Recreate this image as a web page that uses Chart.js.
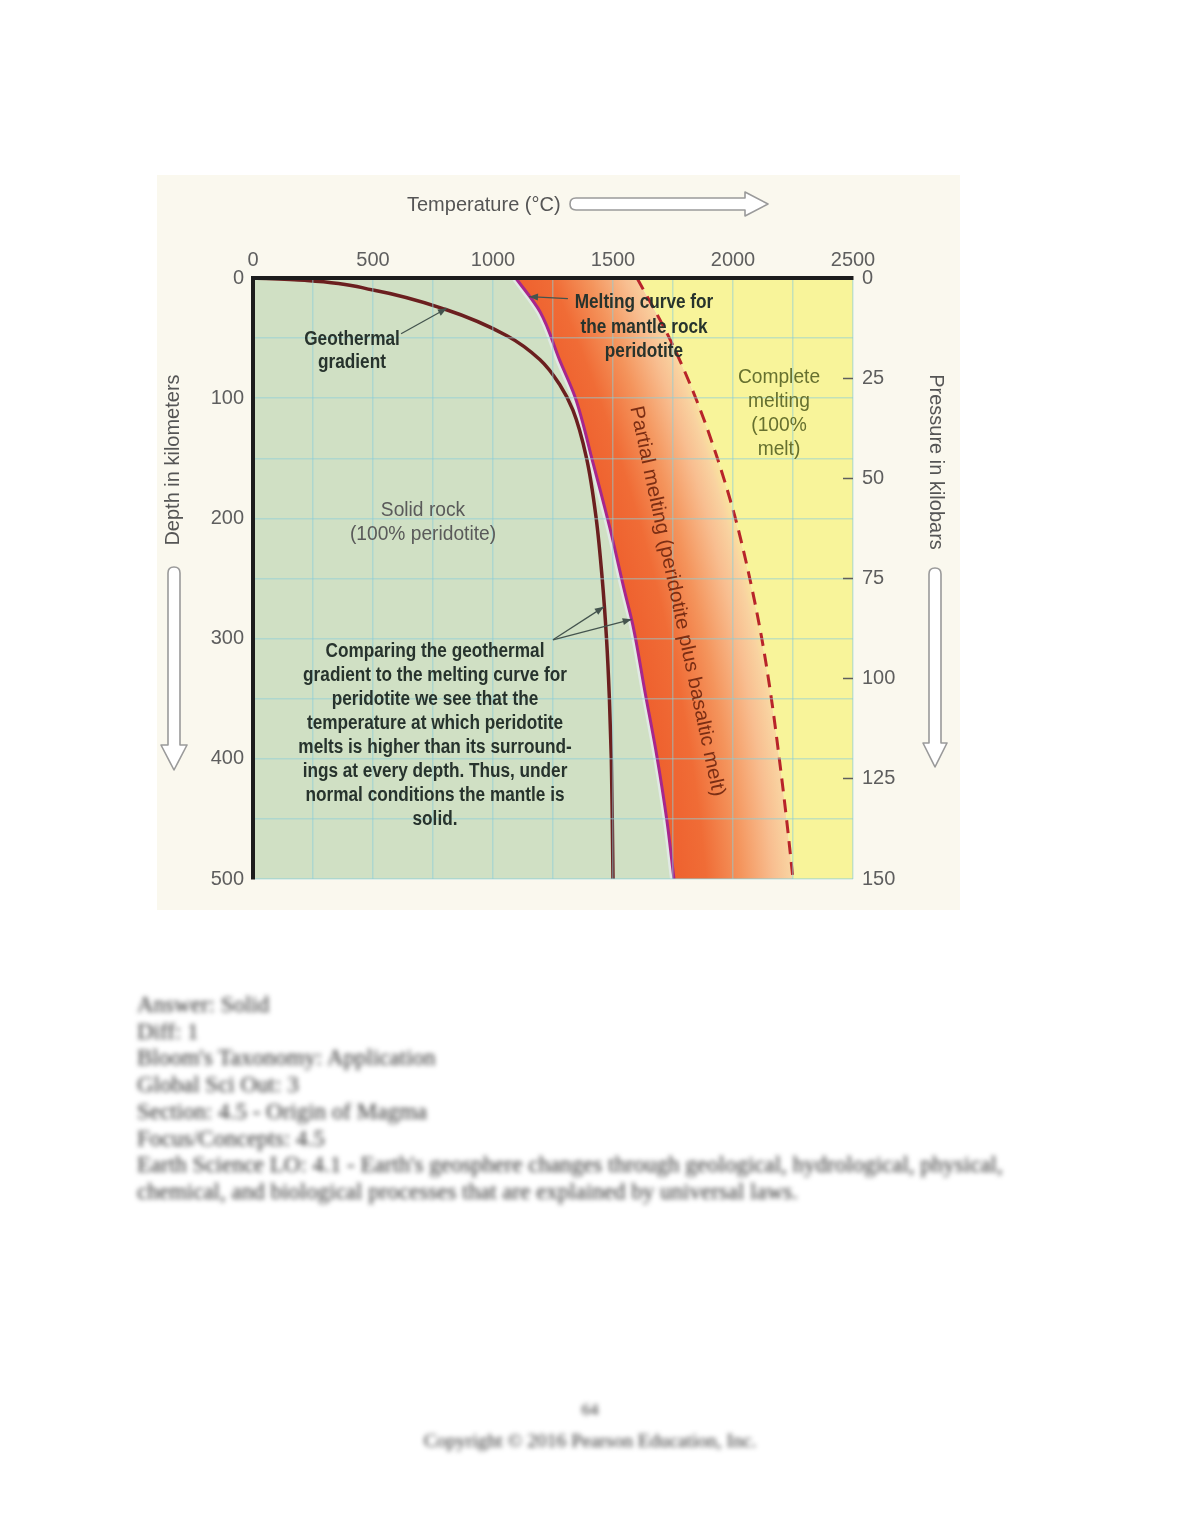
<!DOCTYPE html>
<html><head><meta charset="utf-8">
<script src="https://cdn.jsdelivr.net/npm/chart.js@4.4.1/dist/chart.umd.min.js"></script>
<style>
html,body{margin:0;padding:0;background:#fff;}
body{width:1180px;height:1527px;position:relative;overflow:hidden;font-family:'Liberation Sans',Arial,sans-serif;}
#panel{position:absolute;left:157px;top:175px;width:803px;height:735px;background:#FAF8EE;}
#wrap{position:absolute;left:157px;top:175px;width:803px;height:735px;}
.t{position:absolute;white-space:nowrap;text-align:center;transform-origin:50% 50%;}
.c{transform:translateX(-50%) scaleX(0.86);}
.cr{transform:translateX(-50%) scaleX(0.96);}
.b{font-weight:bold;font-size:20px;color:#27332d;line-height:24px;}
.r{font-size:20px;color:#5a5a5a;line-height:24px;}
#svg{position:absolute;left:0;top:0;width:1180px;height:1527px;pointer-events:none;}
.blur{position:absolute;font-family:'Liberation Serif','Times New Roman',serif;color:#2e2e2e;filter:blur(2.8px);white-space:nowrap;}
</style></head><body>
<div id="panel"></div>
<div id="wrap"><canvas id="c"></canvas></div>

<svg id="svg" xmlns="http://www.w3.org/2000/svg">
  <g fill="#ffffff" stroke="#9a9a9a" stroke-width="1.6" stroke-linejoin="round">
    <path d="M576,198 L745,198 L745,192 L768,204 L745,216 L745,210 L576,210 Q570,210 570,204 Q570,198 576,198 Z"/>
    <path d="M168,573 L168,745 L161,745 L174,770 L187,745 L180,745 L180,573 Q180,567 174,567 Q168,567 168,573 Z"/>
    <path d="M929,574 L929,743 L923,743 L935,767 L947,743 L941,743 L941,574 Q941,568 935,568 Q929,568 929,574 Z"/>
  </g>
</svg>

<div class="t r" style="left:407px;top:192px;text-align:left;color:#555;">Temperature (°C)</div>
<div class="t r" style="left:172px;top:460px;color:#555;transform:translate(-50%,-50%) rotate(-90deg);">Depth in kilometers</div>
<div class="t r" style="left:937px;top:462px;color:#555;transform:translate(-50%,-50%) rotate(90deg);">Pressure in kilobars</div>

<div class="t b c" style="left:352px;top:327px;line-height:23px;">Geothermal<br>gradient</div>
<div class="t b c" style="left:644px;top:289px;line-height:24.5px;">Melting curve for<br>the mantle rock<br>peridotite</div>
<div class="t r cr" style="left:423px;top:497px;">Solid rock<br>(100% peridotite)</div>
<div class="t r cr" style="left:779px;top:364px;color:#66702f;">Complete<br>melting<br>(100%<br>melt)</div>
<div class="t" style="left:678px;top:601px;font-size:20px;color:#7b2e14;transform:translate(-50%,-50%) rotate(78deg) scaleX(1.03);">Partial melting (peridotite plus basaltic melt)</div>
<div class="t b c" style="left:435px;top:638px;">Comparing the geothermal<br>gradient to the melting curve for<br>peridotite we see that the<br>temperature at which peridotite<br>melts is higher than its surround-<br>ings at every depth. Thus, under<br>normal conditions the mantle is<br>solid.</div>

<div class="blur" style="left:137px;top:992px;font-size:23px;line-height:26.7px;">Answer: Solid<br>Diff: 1<br>Bloom's Taxonomy: Application<br>Global Sci Out: 3<br>Section: 4.5 - Origin of Magma<br>Focus/Concepts: 4.5<br>Earth Science LO: 4.1 - Earth's geosphere changes through geological, hydrological, physical,<br>chemical, and biological processes that are explained by universal laws.</div>
<div class="blur" style="left:590px;top:1400px;font-size:17px;transform:translateX(-50%);">64</div>
<div class="blur" style="left:590px;top:1430px;font-size:19.5px;transform:translateX(-50%);">Copyright © 2016 Pearson Education, Inc.</div>

<script>
// ---- tick labels ----
const tempTicks = [0, 500, 1000, 1500, 2000, 2500];
const depthTicks = [0, 100, 200, 300, 400, 500];
const pressureTicks = [0, 25, 50, 75, 100, 125, 150];

// ---- geothermal gradient (depth km, temperature °C) ----
const geoDepth = [0, 2, 10, 26, 48, 68, 89, 110, 150, 200, 250, 300, 350, 400, 450, 500];
const geoTemp  = [0, 225, 500, 800, 1058, 1196, 1279, 1333, 1390, 1430, 1455, 1473, 1485, 1493, 1497, 1500];

// ---- melting curve of peridotite (solidus) ----
const solDepth = [0, 28, 69, 99, 154, 208, 262, 289, 344, 398, 452, 500];
const solTemp  = [1095, 1196, 1279, 1342, 1417, 1487, 1550, 1583, 1633, 1683, 1725, 1754];

// ---- complete melting curve (liquidus, dashed) ----
const liqDepth = [0, 50, 100, 150, 200, 250, 300, 350, 400, 450, 500];
const liqTemp  = [1600, 1735, 1845, 1935, 2010, 2070, 2120, 2160, 2193, 2223, 2250];

// ---- axis limits ----
const tempRange = [0, 2500];
const depthRange = [0, 500];
const pressureRange = [0, 150];

// ---- annotation leader lines (data coordinates) ----
const leaderFromT = [617, 1312, 1250, 1250];
const leaderFromD = [46.4, 17.1, 301, 301];
const leaderToT   = [808, 1150, 1462, 1578];
const leaderToD   = [25.2, 15.5, 273.6, 284];

const pts = (ds, ts) => ds.map((d, i) => ({x: ts[i], y: d}));

function bandGradient(context) {
  const chart = context.chart;
  const area = chart.chartArea;
  const xs = chart.scales.x, ys = chart.scales.y;
  if (!area || !xs || !ys) return 'rgb(242,125,65)';
  const n = solTemp.length;
  const P = i => [xs.getPixelForValue(solTemp[i]), ys.getPixelForValue(solDepth[i])];
  const [x1, y1] = P(0), [x2, y2] = P(Math.floor(n / 2)), [x3, y3] = P(n - 1);
  const d = 2 * (x1 * (y2 - y3) + x2 * (y3 - y1) + x3 * (y1 - y2));
  if (!isFinite(d) || Math.abs(d) < 1e-6) return 'rgb(242,125,65)';
  const s1 = x1 * x1 + y1 * y1, s2 = x2 * x2 + y2 * y2, s3 = x3 * x3 + y3 * y3;
  const ux = (s1 * (y2 - y3) + s2 * (y3 - y1) + s3 * (y1 - y2)) / d;
  const uy = (s1 * (x3 - x2) + s2 * (x1 - x3) + s3 * (x2 - x1)) / d;
  const r0 = Math.hypot(x1 - ux, y1 - uy);
  let r1 = 0;
  for (let i = 0; i < liqTemp.length; i++) {
    r1 += Math.hypot(xs.getPixelForValue(liqTemp[i]) - ux, ys.getPixelForValue(liqDepth[i]) - uy);
  }
  r1 /= liqTemp.length;
  if (!(r1 > r0)) return 'rgb(242,125,65)';
  const g = chart.ctx.createRadialGradient(ux, uy, r0 - 4, ux, uy, r1 + 4);
  g.addColorStop(0, 'rgb(238,96,46)');
  g.addColorStop(0.28, 'rgb(240,108,54)');
  g.addColorStop(0.55, 'rgb(244,148,92)');
  g.addColorStop(0.8, 'rgb(248,190,144)');
  g.addColorStop(0.93, 'rgb(249,210,160)');
  g.addColorStop(1, 'rgb(249,228,158)');
  return g;
}

const leaderPlugin = {
  id: 'leaders',
  afterDraw(chart) {
    const {ctx} = chart;
    const xs = chart.scales.x, ys = chart.scales.y;
    ctx.save();
    ctx.strokeStyle = '#44544e';
    ctx.fillStyle = '#44544e';
    ctx.lineWidth = 1.3;
    for (let i = 0; i < leaderFromT.length; i++) {
      const x0 = xs.getPixelForValue(leaderFromT[i]), y0 = ys.getPixelForValue(leaderFromD[i]);
      const x1 = xs.getPixelForValue(leaderToT[i]), y1 = ys.getPixelForValue(leaderToD[i]);
      ctx.beginPath(); ctx.moveTo(x0, y0); ctx.lineTo(x1, y1); ctx.stroke();
      const a = Math.atan2(y1 - y0, x1 - x0), L = 9, W = 3.5;
      ctx.beginPath();
      ctx.moveTo(x1, y1);
      ctx.lineTo(x1 - L * Math.cos(a) + W * Math.sin(a), y1 - L * Math.sin(a) - W * Math.cos(a));
      ctx.lineTo(x1 - L * Math.cos(a) - W * Math.sin(a), y1 - L * Math.sin(a) + W * Math.cos(a));
      ctx.closePath(); ctx.fill();
    }
    ctx.restore();
  }
};

Chart.defaults.font.family = "'Liberation Sans', Arial, sans-serif";

const gridCol = 'rgba(140,205,215,0.5)';
new Chart(document.getElementById('c'), {
  type: 'line',
  data: {
    datasets: [
      {label: 'Geothermal gradient', data: pts(geoDepth, geoTemp), borderColor: '#6B1F1F', borderWidth: 3.5, fill: false, order: 3},
      {label: 'Melting curve for the mantle rock peridotite', data: pts(solDepth, solTemp), borderColor: '#A8268C', borderWidth: 3, fill: false, order: 1},
      {label: 'Complete melting', data: pts(liqDepth, liqTemp), borderColor: '#B8242A', borderWidth: 3, borderDash: [13, 8], fill: false, order: 2},
      {label: 'Solid rock (100% peridotite)', data: pts(solDepth, solTemp), borderWidth: 0, borderColor: 'transparent', backgroundColor: '#D0E0C4', fill: {value: tempRange[0]}, order: 10},
      {label: 'Complete melting (100% melt)', data: pts(liqDepth, liqTemp), borderWidth: 0, borderColor: 'transparent', backgroundColor: '#F8F49A', fill: {value: tempRange[1]}, order: 9},
      {label: 'solidus halo', data: pts(solDepth, solTemp), borderWidth: 8, borderColor: 'rgba(226,234,232,0.9)', fill: false, order: 8},
      {label: 'Partial melting (peridotite plus basaltic melt)', data: pts(solDepth, solTemp), borderWidth: 0, borderColor: 'transparent', backgroundColor: bandGradient, fill: 4, order: 7}
    ]
  },
  options: {
    responsive: true,
    maintainAspectRatio: false,
    animation: false,
    indexAxis: 'y',
    layout: {padding: {left: 0, right: 0, top: 0, bottom: 18}},
    elements: {point: {radius: 0, hoverRadius: 0}, line: {cubicInterpolationMode: 'monotone'}},
    plugins: {legend: {display: false}, tooltip: {enabled: false}},
    events: [],
    scales: {
      x: {
        type: 'linear', position: 'top', min: tempRange[0], max: tempRange[1],
        afterFit: s => { s.height = 103; },
        ticks: {stepSize: 250, autoSkip: false, maxRotation: 0, padding: 6, color: '#5e5e5e', font: {size: 20},
                callback: v => tempTicks.includes(v) ? String(v) : ''},
        grid: {color: gridCol, lineWidth: 1.5, drawTicks: false, z: 1},
        border: {display: true, color: '#1c1c1c', width: 4, z: 2}
      },
      y: {
        type: 'linear', position: 'left', min: depthRange[0], max: depthRange[1], reverse: true,
        afterFit: s => { s.width = 96; },
        ticks: {stepSize: 50, autoSkip: false, padding: 9, color: '#5e5e5e', font: {size: 20},
                callback: v => depthTicks.includes(v) ? String(v) : ''},
        grid: {color: gridCol, lineWidth: 1.5, drawTicks: false, z: 1},
        border: {display: true, color: '#1c1c1c', width: 4, z: 2}
      },
      y2: {
        type: 'linear', position: 'right', min: pressureRange[0], max: pressureRange[1], reverse: true,
        afterFit: s => { s.width = 107; },
        ticks: {stepSize: 25, autoSkip: false, padding: 19, color: '#5e5e5e', font: {size: 20},
                callback: v => pressureTicks.includes(v) ? String(v) : ''},
        grid: {drawOnChartArea: false, drawTicks: true, tickLength: -10, tickWidth: 1.5, z: 1,
               tickColor: c => (c.tick && c.tick.value > pressureRange[0] && c.tick.value < pressureRange[1]) ? '#5e5e5e' : 'rgba(0,0,0,0)'},
        border: {display: false}
      }
    }
  },
  plugins: [leaderPlugin]
});
</script>
</body></html>
